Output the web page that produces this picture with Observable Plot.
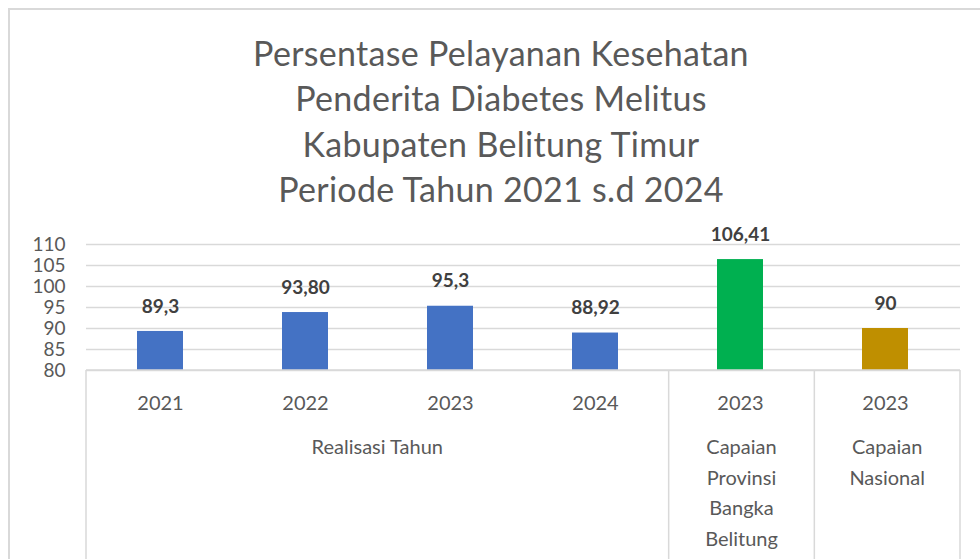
<!DOCTYPE html>
<html>
<head>
<meta charset="utf-8">
<script src="https://cdn.jsdelivr.net/npm/d3@7"></script>
<script src="https://cdn.jsdelivr.net/npm/@observablehq/plot@0.6"></script>
<style>
  html, body { margin: 0; padding: 0; background: #fff; }
  #wrap { position: relative; width: 980px; height: 559px; overflow: hidden; font-family: Lato, "Open Sans", sans-serif; }
  #frame { position: absolute; left: 8px; top: 8px; width: 1000px; height: 600px; border-left: 2px solid #d9d9d9; border-top: 2px solid #d9d9d9; box-sizing: border-box; }
  #title { position: absolute; left: 20px; width: 962px; top: 30px; text-align: center; color: #595959; font-size: 34px; line-height: 45.3px; letter-spacing: 0.3px; }
  #chart { position: absolute; left: 0; top: 0; }
</style>
</head>
<body>
<div id="wrap">
  <div id="frame"></div>
  <div id="chart"></div>
  <div id="title">Persentase Pelayanan Kesehatan<br>Penderita Diabetes Melitus<br>Kabupaten Belitung Timur<br>Periode Tahun 2021 s.d 2024</div>
</div>
<script>
const years = ["2021", "2022", "2023", "2024", "2023", "2023"];
const groupOf = [0, 0, 0, 0, 1, 2];
const values = [89.3, 93.80, 95.3, 88.92, 106.41, 90];
const valueLabels = ["89,3", "93,80", "95,3", "88,92", "106,41", "90"];
const barColors = ["#4472C4", "#4472C4", "#4472C4", "#4472C4", "#00B050", "#BF8F00"];
const groupLines = [["Realisasi Tahun"], ["Capaian", "Provinsi", "Bangka", "Belitung"], ["Capaian", "Nasional"]];
const yTicks = [80, 85, 90, 95, 100, 105, 110];

const rows = years.map((y, i) => ({key: i + "|" + y, year: y, group: groupOf[i], value: values[i], label: valueLabels[i], color: barColors[i]}));
const keys = rows.map(d => d.key);

function categoryAxis(index, scales, values, dimensions) {
  const {marginLeft, marginRight, marginBottom, width, height} = dimensions;
  const left = marginLeft, right = width - marginRight, base = height - marginBottom;
  const step = (right - left) / keys.length;
  const g = d3.create("svg:g");
  const line = "#d9d9d9";
  g.append("line").attr("x1", left).attr("x2", right).attr("y1", base).attr("y2", base)
    .attr("stroke", line).attr("stroke-width", 1.5);
  const groups = d3.groups(rows.map((d, i) => ({...d, i})), d => d.group);
  const bounds = new Set();
  groups.forEach(([gi, rs]) => {
    const x0 = left + rs[0].i * step;
    const x1 = left + (rs[rs.length - 1].i + 1) * step;
    bounds.add(x0); bounds.add(x1);
    const t = g.append("text").attr("text-anchor", "middle").attr("fill", "#595959")
      .attr("font-size", 20).attr("y", base + 84);
    groupLines[gi].forEach((s, k) => {
      t.append("tspan").attr("x", (x0 + x1) / 2).attr("dy", k === 0 ? 0 : 30.5).text(s);
    });
  });
  bounds.forEach(x => {
    g.append("line").attr("x1", x).attr("x2", x).attr("y1", base).attr("y2", height)
      .attr("stroke", line).attr("stroke-width", 1.5);
  });
  return g.node();
}

const chart = Plot.plot({
  width: 980,
  height: 559,
  marginLeft: 86,
  marginRight: 20,
  marginTop: 244,
  marginBottom: 189,
  style: {fontFamily: "Lato, 'Open Sans', sans-serif", background: "transparent"},
  x: {domain: keys, padding: 0.68, paddingOuter: 0.34, align: 0.5},
  y: {domain: [80, 110]},
  marks: [
    Plot.gridY(yTicks, {stroke: "#d9d9d9", strokeOpacity: 1, strokeWidth: 1.5}),
    Plot.axisY(yTicks, {tickSize: 0, tickPadding: 21, fontSize: 19, color: "#595959", label: null}),
    Plot.barY(rows, {x: "key", y1: 80, y2: "value", fill: "color"}),
    Plot.text(rows, {x: "key", y: "value", text: "label", dy: -25, fontSize: 19, fontWeight: "bold", fill: "#404040"}),
    Plot.axisX({tickSize: 0, tickPadding: 25, fontSize: 20, color: "#595959", tickFormat: k => k.split("|")[1], label: null}),
    categoryAxis
  ]
});
document.getElementById("chart").appendChild(chart);
</script>
</body>
</html>
